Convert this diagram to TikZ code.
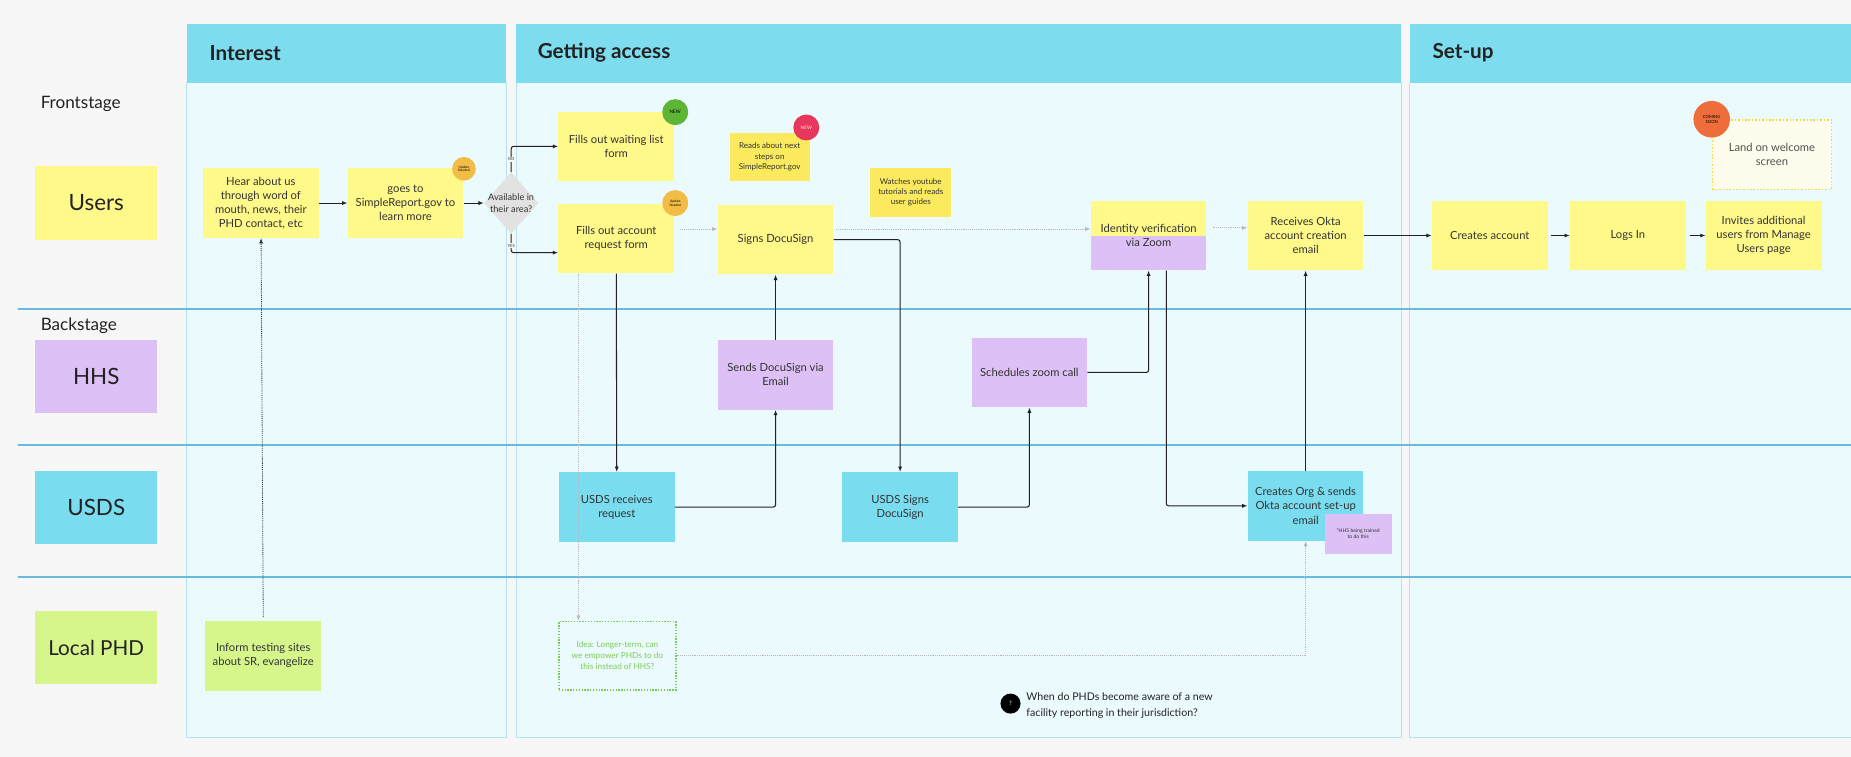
\documentclass[tikz,border=0pt]{standalone}
\usepackage{fontspec}
\setmainfont{Lato}
\usetikzlibrary{arrows.meta}
\usetikzlibrary{shapes.geometric}

\definecolor{pagebg}{HTML}{F7F7F7}
\definecolor{colbody}{HTML}{EBFAFC}
\definecolor{colline}{HTML}{B6E3EF}
\definecolor{headcyan}{HTML}{7DDCEE}
\definecolor{laneline}{HTML}{68BBDA}
\definecolor{noteyellow}{HTML}{FFF98A}
\definecolor{notegold}{HTML}{FBEA5E}
\definecolor{hhspurple}{HTML}{DDC0F5}
\definecolor{usdscyan}{HTML}{7ADCEF}
\definecolor{phdgreen}{HTML}{D6F68C}
\definecolor{inkdark}{HTML}{222222}
\definecolor{inkgray}{HTML}{333333}
\definecolor{ideagreen}{HTML}{7BCB57}
\definecolor{badgegold}{HTML}{F3BC45}
\definecolor{badgegreen}{HTML}{5DB535}
\definecolor{badgered}{HTML}{E8375C}
\definecolor{badgeorange}{HTML}{EE6E3B}
\definecolor{welcomebg}{HTML}{FEFCEC}
\definecolor{welcomeline}{HTML}{F4D93E}
\definecolor{diamondgray}{HTML}{E2E2E2}

\newcommand{\fs}[2]{\fontsize{#1}{#2}\selectfont}

\begin{document}
\begin{tikzpicture}[x=1pt, y=-1pt,
    sticky/.style={fill=noteyellow, minimum width=98, minimum height=59, inner sep=1pt,
      align=center, text=inkgray, font=\fs{9.5}{12}},
    smallnote/.style={sticky, fill=notegold, minimum width=68, minimum height=41, font=\fs{6.8}{8.7}},
    hhsnote/.style={sticky, fill=hhspurple},
    usdsnote/.style={sticky, fill=usdscyan},
    phdnote/.style={sticky, fill=phdgreen},
    lanebox/.style={minimum width=103, minimum height=62, font=\fs{19}{22}, text=inkdark},
    column/.style={fill=colbody, draw=colline, line width=0.6pt},
    colhead/.style={fill=headcyan},
    headtext/.style={anchor=west, font=\bfseries\fs{17.5}{20}, text=inkdark},
    badge/.style={circle, minimum size=22, inner sep=0pt, align=center, font=\fs{2.8}{3.2}},
    yesno/.style={fill=pagebg, inner sep=0.6pt, font=\fs{3.5}{4}, text=inkgray},
    flow/.style={draw=inkdark, line width=0.9pt, rounded corners=2pt,
      -{Latex[length=4.5pt,width=3.5pt]}},
    dotflow/.style={draw=gray!55, line width=0.7pt, dash pattern=on 0.8pt off 0.8pt,
      -{Latex[length=4.5pt,width=3.5pt]}},
    darkdot/.style={dotflow, draw=inkgray},
  ]
  \useasboundingbox[fill=pagebg] (0,0) rectangle (1568,641);

  % columns
  \draw[column] (158,70) rectangle (429,625);
  \draw[column] (437,70) rectangle (1187,625);
  \draw[column] (1194,70) -- (1194,625) -- (1568,625);
  \fill[colbody] (1194.3,70) rectangle (1568,624.7);
  \fill[colhead] (158,20) rectangle (429,70);
  \fill[colhead] (437,20) rectangle (1187,70);
  \fill[colhead] (1194,20) rectangle (1568,70);
  \node[headtext] at (174,45) {Interest};
  \node[headtext] at (452,45) {Getting access};
  \node[headtext] at (1210,45) {Set-up};

  % lanes
  \foreach \y in {262,377,489}
    \draw[laneline, line width=1.4pt] (15,\y) -- (1568,\y);
  \node[anchor=west, font=\fs{14.5}{16}, text=inkdark] (front) at (31,88) {Frontstage};
  \node[anchor=west, font=\fs{14.5}{16}, text=inkdark] (back) at (31,276) {Backstage};
  \node[lanebox, fill=noteyellow] (users) at (81.5,172) {Users};
  \node[lanebox, fill=hhspurple] (hhs) at (81.5,319) {HHS};
  \node[lanebox, fill=usdscyan] (usds) at (81.5,430) {USDS};
  \node[lanebox, fill=phdgreen, font=\fs{17.5}{20}] (phd) at (81.5,548.5) {Local PHD};

  % frontstage
  \node[sticky] (hear) at (221,172) {Hear about us\\through word of\\mouth, news, their\\PHD contact, etc};
  \node[sticky] (goesto) at (343.5,172) {goes to\\SimpleReport.gov to\\learn more};
  \node[diamond, fill=diamondgray, minimum width=46, minimum height=52, inner sep=0pt] (avail) at (433,172) {};
  \node[font=\fs{7.8}{9.5}, align=center, text=inkgray] at (avail) {Available in\\their area?};
  \node[sticky] (waitlist) at (522,124) {Fills out waiting list\\form};
  \node[sticky] (acctform) at (522,202) {Fills out account\\request form};
  \node[smallnote] (readsabout) at (652,133) {Reads about next\\steps on\\SimpleReport.gov};
  \node[smallnote, minimum width=69, minimum height=42] (watches) at (771.5,163) {Watches youtube\\tutorials and reads\\user guides};
  \node[sticky] (signs) at (657,203) {Signs DocuSign};
  \node[sticky, path picture={\fill[hhspurple] (path picture bounding box.west)
      rectangle (path picture bounding box.south east);}] (identity) at (973,199.5) {Identity verification\\via Zoom};
  \node[sticky] (receives) at (1106,199.5) {Receives Okta\\account creation\\email};
  \node[sticky] (creates) at (1262,199.5) {Creates account};
  \node[sticky] (logsin) at (1379,199.5) {Logs In};
  \node[sticky] (invites) at (1494,199.5) {Invites additional\\users from Manage\\Users page};
  \node[sticky, fill=welcomebg, draw=welcomeline, line width=1.3pt, dash pattern=on 1.3pt off 1.6pt,
    minimum width=101, minimum height=59, text=inkgray!85] (welcome) at (1501,131) {Land on welcome\\screen};

  % backstage
  \node[hhsnote] (sendsdoc) at (657,317.5) {Sends DocuSign via\\Email};
  \node[hhsnote] (schedules) at (872,315.5) {Schedules zoom call};
  \node[usdsnote] (usdsrecv) at (522.5,429.5) {USDS receives\\request};
  \node[usdsnote] (usdssigns) at (762.5,429.5) {USDS Signs\\DocuSign};
  \node[usdsnote] (createorg) at (1106,428.5) {Creates Org \& sends\\Okta account set-up\\email};
  \node[hhsnote, minimum width=57, minimum height=34, font=\fs{4.3}{5.6}] (hhsnoted) at (1150.5,452) {*HHS being trained\\to do this};
  \node[phdnote] (inform) at (223,555.5) {Inform testing sites\\about SR, evangelize};
  \node[sticky, fill=colbody, draw=ideagreen, line width=1.2pt, dash pattern=on 1.1pt off 1.3pt,
    minimum width=99, minimum height=58, text=ideagreen, font=\fs{7}{9.2}] (idea) at (523,555.5) {Idea: Longer-term, can\\we empower PHDs to do\\this instead of HHS?};

  % connectors
  \draw[flow] (hear) -- (goesto);
  \draw[flow] (goesto) -- (avail);
  \draw[flow] (avail.north) |- (waitlist.west);
  \draw[flow] (avail.south) |- ([yshift=-12pt]acctform.west);
  \node[yesno] at (433,135) {NO};
  \node[yesno] at (433,208) {YES};
  \draw[dotflow] ([xshift=5pt,yshift=8pt]acctform.east) -- ([yshift=8pt]acctform.east -| signs.west);
  \draw[dotflow] ([xshift=2pt,yshift=9pt]signs.east) -- ([yshift=9pt]signs.east -| identity.west);
  \draw[dotflow] ([xshift=5pt,yshift=6.5pt]identity.east) -- ([yshift=6.5pt]identity.east -| receives.west);
  \draw[flow] (acctform) -- (usdsrecv);
  \draw[flow] (usdsrecv.east) -| (sendsdoc.south);
  \draw[flow] (sendsdoc) -- (signs);
  \draw[flow] (signs.east) -| (usdssigns.north);
  \draw[flow] (usdssigns.east) -| (schedules.south);
  \draw[flow] (schedules.east) -| (identity.south);
  \draw[flow] ([xshift=15pt]identity.south) |- (createorg.west);
  \draw[flow] (createorg) -- (receives);
  \draw[flow] (receives) -- (creates);
  \draw[flow] ([xshift=3pt]creates.east) -- (logsin);
  \draw[flow] ([xshift=3pt]logsin.east) -- (invites);
  \draw[darkdot] ([yshift=3pt]inform.north) -- (hear);
  \draw[dotflow] ([xshift=-32pt]acctform.south) -- ([xshift=-32pt]acctform.south |- idea.north);
  \draw[dotflow] (idea.east) -| (createorg.south);

  % badges
  \node[badge, fill=badgegold, minimum size=20] (upd1) at (393,143) {Update\\Needed};
  \node[badge, fill=badgegreen, font=\fs{4}{4.5}] (new1) at (572,95) {NEW};
  \node[badge, fill=badgegold] (upd2) at (572,172) {Update\\Needed};
  \node[badge, fill=badgered, text=white!85!badgered, font=\fs{4}{4.5}] (new2) at (683,108) {NEW};
  \node[badge, fill=badgeorange, minimum size=31, font=\fs{3.6}{4.4}] (soon) at (1450,101) {COMING\\SOON};

  % question
  \node[circle, fill=black, minimum size=17, inner sep=0pt, text=white, font=\fs{5}{6}] (qmark) at (856,596) {?};
  \node[anchor=west, align=left, font=\fs{9}{13.5}, text=inkdark] (question) at (866,598)
    {When do PHDs become aware of a new\\facility reporting in their jurisdiction?};
\end{tikzpicture}
\end{document}
